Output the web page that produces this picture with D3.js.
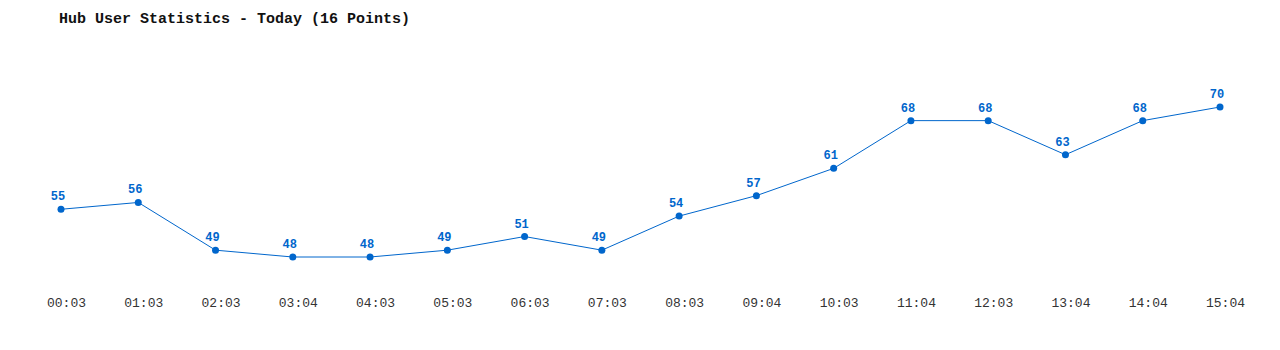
<!DOCTYPE html>
<html>
  <head>
    <meta charset="utf-8" />
    <title>Hub User Statistics</title>
    <script src="https://cdn.jsdelivr.net/npm/d3@7"></script>
    <style type="text/css">
      body { margin: 0; background: #fff; }
      svg { display: block; }
    </style>
  </head>
  <body>
    <svg id="chart" width="1280" height="350"></svg>
    <script type="text/javascript">
      var times = ['00:03', '01:03', '02:03', '03:04', '04:03', '05:03', '06:03', '07:03',
                   '08:03', '09:04', '10:03', '11:04', '12:03', '13:04', '14:04', '15:04'];
      var users = [55, 56, 49, 48, 48, 49, 51, 49, 54, 57, 61, 68, 68, 63, 68, 70];
      var title = 'Hub User Statistics - Today (16 Points)';

      var svg = d3.select('#chart');
      var mono = '"Liberation Mono", "DejaVu Sans Mono", monospace';

      svg.append('text')
        .attr('x', 59)
        .attr('y', 23)
        .attr('font-family', mono)
        .attr('font-size', 15)
        .attr('font-weight', 'bold')
        .attr('fill', '#111')
        .text(title);

      var scX = d3.scalePoint().domain(times).range([61, 1220]);
      var scY = d3.scaleLinear().domain([48, 70]).range([257, 107]);

      // time labels along the bottom, no axis line (sit a few px right of the points)
      var axis = d3.axisBottom(scX).tickSize(0).tickPadding(0);
      var gx = svg.append('g').attr('transform', 'translate(5,298)').call(axis);
      gx.select('.domain').remove();
      gx.selectAll('text')
        .attr('font-family', mono)
        .attr('font-size', 13)
        .attr('fill', '#333');

      var line = d3.line()
        .x(function (d, i) { return scX(times[i]); })
        .y(function (d) { return scY(d); });

      svg.append('path')
        .attr('fill', 'none')
        .attr('stroke', '#0066cc')
        .attr('stroke-width', 1)
        .attr('d', line(users));

      var pts = svg.append('g').attr('fill', '#0066cc');
      pts.selectAll('circle')
        .data(users)
        .enter()
        .append('circle')
        .attr('r', 3.5)
        .attr('cx', function (d, i) { return scX(times[i]); })
        .attr('cy', function (d) { return scY(d); });

      pts.selectAll('text')
        .data(users)
        .enter()
        .append('text')
        .attr('x', function (d, i) { return scX(times[i]) - 3; })
        .attr('y', function (d) { return scY(d) - 9; })
        .attr('text-anchor', 'middle')
        .attr('font-family', mono)
        .attr('font-size', 12)
        .attr('font-weight', 'bold')
        .text(function (d) { return d; });
    </script>
  </body>
</html>
